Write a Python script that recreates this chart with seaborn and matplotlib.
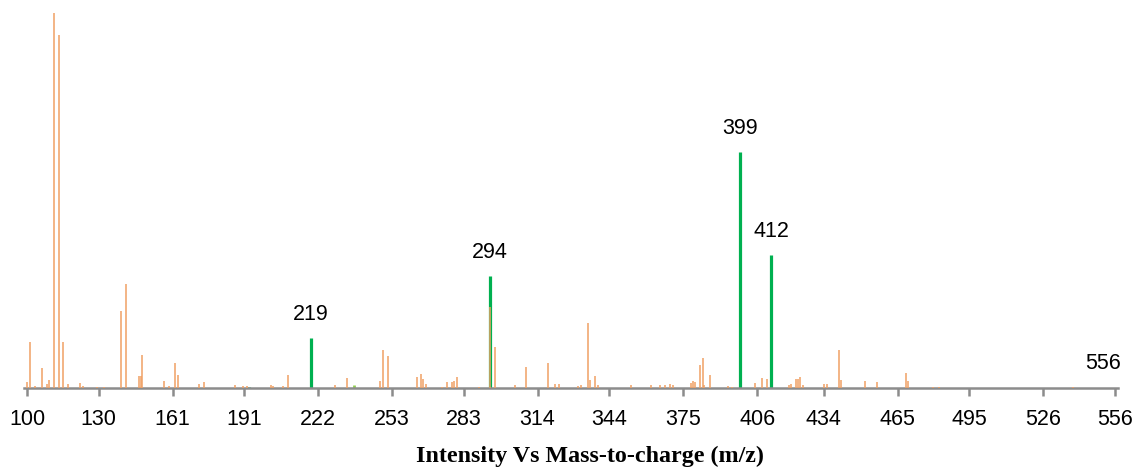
import matplotlib
matplotlib.use("Agg")
import matplotlib.pyplot as plt
import seaborn as sns
import pandas as pd

# ---- data (relative intensity, arbitrary units) ----
minor_mz = [100.1, 101.4, 103.4, 106.2, 108.3, 109.2, 111.3, 113.4, 115.2, 117.3,
            122.2, 123.3, 129.2, 132.3, 139.3, 141.4, 147.1, 147.7, 148.3, 157.3,
            159.4, 162.2, 163.4, 172.2, 174.3, 187.2, 190.5, 192.2, 202.1, 203.2,
            207.2, 209.3, 229.1, 234.2, 248.0, 249.1, 251.2, 263.3, 265.3, 266.1,
            267.2, 273.8, 276.2, 278.2, 279.1, 280.2, 289.6, 294.2, 296.3, 304.5,
            309.3, 318.2, 321.3, 323.1, 331.1, 332.1, 335.1, 336.1, 338.2, 339.2,
            353.0, 361.5, 365.3, 367.4, 369.5, 370.7, 378.2, 379.3, 380.0, 382.1,
            383.2, 383.9, 386.1, 393.8, 395.5, 405.2, 408.2, 410.3, 419.2, 420.1,
            422.2, 423.1, 424.1, 425.1, 434.0, 435.2, 440.2, 441.2, 451.3, 456.1,
            468.3, 469.1, 479.8, 482.2, 538.3]
minor_int = [6, 46, 2, 20, 4, 8, 375, 353, 46, 4,
             5, 2, 1, 1, 77, 104, 12, 12, 33, 7,
             2, 25, 13, 4, 6, 3, 2, 2, 3, 2,
             2, 13, 3, 10, 7, 38, 32, 11, 14, 9,
             4, 1, 6, 6, 7, 11, 1, 81, 41, 3,
             21, 25, 4, 4, 2, 3, 65, 8, 12, 3,
             3, 3, 3, 3, 4, 3, 5, 7, 6, 23,
             30, 3, 13, 2, 1, 5, 10, 9, 3, 4,
             9, 9, 11, 3, 4, 4, 38, 8, 7, 6,
             15, 7, 1, 1, 1]

lime_mz = [237.0]
lime_int = [3]

key_mz = [193.2, 219, 294, 399, 412]
key_int = [1, 50, 112, 236, 133]
label_mz = [219, 294, 399, 412]
label_int = [50, 112, 236, 133]
end_label = 556

tick_values = [100, 130, 161, 191, 222, 253, 283, 314, 344, 375,
               406, 434, 465, 495, 526, 556]
title = "Intensity Vs Mass-to-charge (m/z)"

# ---- styling ----
sns.set_theme(style="white")
plt.rcParams['font.family'] = ['Liberation Sans', 'DejaVu Sans']

W, H = 1134, 471
fig = plt.figure(figsize=(W / 100, H / 100), dpi=100)
ax = fig.add_axes([24 / W, 83 / H, (1118 - 24) / W, 388 / H])

minor = pd.DataFrame({"mz": minor_mz, "intensity": minor_int})
key = pd.DataFrame({"mz": key_mz, "intensity": key_int})
lime = pd.DataFrame({"mz": lime_mz, "intensity": lime_int})

ax.vlines(key["mz"], 0, key["intensity"], color="#00B050", lw=2.3, zorder=2)
ax.vlines(lime["mz"], 0, lime["intensity"], color="#92D050", lw=2.0, zorder=2)
ax.vlines(minor["mz"], 0, minor["intensity"], color="#F0A064", lw=1.1, zorder=3)

for m, h in zip(label_mz, label_int):
    ax.annotate(str(m), xy=(m, h), xytext=(0, 16.8), textcoords="offset points",
                ha="center", va="center", fontsize=15.5, color="black")
ax.annotate(str(end_label), xy=(end_label, 0), xytext=(-8.6, 17.5),
            textcoords="offset points", ha="center", va="center",
            fontsize=15.5, color="black")

ax.set_xlim(98.74, 557.25)
ax.set_ylim(0, 388)
ax.set_yticks([])
ax.set_xticks(tick_values)
ax.set_xticklabels([str(t) for t in tick_values])
ax.tick_params(axis="x", direction="out", length=6, width=1.8,
               color="#8C8C8C", labelsize=15.5, pad=9, labelcolor="black",
               bottom=True)
for s in ["left", "right", "top"]:
    ax.spines[s].set_visible(False)
ax.spines["bottom"].set_color("#8C8C8C")
ax.spines["bottom"].set_linewidth(1.8)
ax.grid(False)
ax.set_facecolor("white")

fig.text(590 / W, 1 - 456.5 / H, title, ha="center", va="center",
         family=["Liberation Serif", "DejaVu Serif"], weight="bold",
         fontsize=17.3, color="black")

fig.savefig("out.png", dpi=100, facecolor="white")
